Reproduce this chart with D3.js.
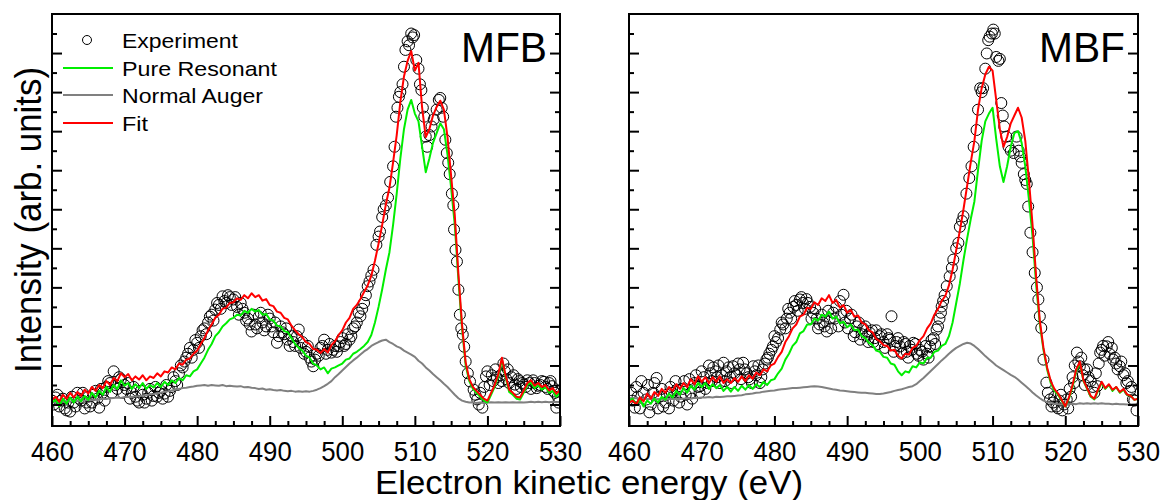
<!DOCTYPE html>
<html>
<head>
<meta charset="utf-8">
<script src="https://cdn.jsdelivr.net/npm/d3@7/dist/d3.min.js"></script>
<style>
body { margin: 0; background: #fff; }
text { font-family: "Liberation Sans", Arial, sans-serif; fill: #000; }
</style>
</head>
<body>
<svg id="chart" width="1162" height="500"></svg>
<script>
// x axis
var xTicks = [460, 470, 480, 490, 500, 510, 520, 530];
// energy grid of the computed curves (eV), 0.5 eV step
var energy = d3.range(460, 530.25, 0.5);

// ---- MFB panel ----
var mfbResonant = [
  0.05,0.12,-0.05,0.15,0.02,0.18,0.05,0.2,0.08,0.22,
  0.12,0.3,0.18,0.35,0.25,0.45,0.32,0.5,0.4,0.62,
  0.48,0.55,0.4,0.52,0.42,0.55,0.4,0.5,0.44,0.55,
  0.45,0.58,0.5,0.62,0.55,0.68,0.62,0.75,0.72,0.85,
  0.9,1.05,1.2,1.4,1.55,1.75,1.85,2.0,2.08,2.18,
  2.22,2.3,2.28,2.4,2.35,2.45,2.38,2.42,2.3,2.32,
  2.18,2.15,2.02,2.0,1.88,1.85,1.7,1.55,1.45,1.38,
  1.25,1.2,1.05,1.0,0.9,0.95,0.8,0.92,0.95,1.0,
  1.05,1.15,1.18,1.3,1.35,1.42,1.5,1.6,1.78,2.1,
  2.5,2.95,3.45,3.9,4.6,5.4,6.3,7.05,7.55,7.8,
  7.45,7.25,6.6,5.95,6.3,6.7,6.95,7.2,7.05,6.4,
  5.55,4.6,3.2,1.95,1.0,0.6,0.4,0.3,0.2,0.1,
  0.05,0.25,0.45,0.72,1.15,0.7,0.32,0.25,0.15,0.13,
  0.3,0.5,0.56,0.42,0.5,0.38,0.45,0.3,0.35,0.2,
  0.3
];
var mfbAuger = [
  0.06,0.05,0.08,0.07,0.09,0.08,0.1,0.09,0.11,0.1,
  0.12,0.11,0.13,0.13,0.15,0.14,0.16,0.17,0.18,0.17,
  0.19,0.2,0.19,0.21,0.21,0.23,0.24,0.26,0.27,0.29,
  0.3,0.33,0.34,0.36,0.38,0.4,0.42,0.43,0.45,0.46,
  0.48,0.49,0.5,0.48,0.5,0.49,0.48,0.5,0.47,0.48,
  0.47,0.46,0.47,0.44,0.45,0.43,0.42,0.4,0.41,0.38,
  0.39,0.37,0.36,0.37,0.35,0.34,0.35,0.33,0.34,0.33,
  0.34,0.33,0.35,0.38,0.42,0.47,0.53,0.6,0.7,0.78,
  0.87,0.96,1.05,1.13,1.2,1.28,1.36,1.42,1.5,1.55,
  1.6,1.64,1.66,1.6,1.55,1.49,1.45,1.38,1.33,1.28,
  1.22,1.12,1.05,0.95,0.87,0.78,0.7,0.62,0.53,0.45,
  0.35,0.25,0.16,0.1,0.07,0.05,0.05,0.04,0.05,0.04,
  0.05,0.06,0.05,0.06,0.05,0.06,0.05,0.06,0.05,0.06,
  0.05,0.06,0.07,0.06,0.07,0.06,0.07,0.06,0.07,0.06,
  0.07
];
var mfbFit = [
  0.12,0.2,0.08,0.25,0.15,0.3,0.18,0.32,0.22,0.38,
  0.28,0.45,0.35,0.5,0.42,0.6,0.5,0.68,0.6,0.8,
  0.7,0.78,0.62,0.72,0.64,0.75,0.62,0.72,0.68,0.8,
  0.72,0.85,0.82,0.95,0.9,1.05,1.02,1.15,1.18,1.3,
  1.38,1.55,1.7,1.9,2.05,2.22,2.3,2.45,2.48,2.6,
  2.62,2.72,2.68,2.8,2.72,2.85,2.75,2.8,2.66,2.7,
  2.55,2.52,2.38,2.35,2.22,2.18,2.02,1.9,1.8,1.72,
  1.6,1.55,1.42,1.4,1.32,1.42,1.33,1.52,1.62,1.78,
  1.9,2.1,2.22,2.45,2.55,2.7,2.88,3.05,3.3,3.68,
  4.12,4.6,5.12,5.55,6.2,6.9,7.75,8.4,8.8,9.05,
  8.55,8.75,7.6,6.85,7.05,7.4,7.62,7.78,7.55,6.85,
  5.85,4.85,3.35,2.05,1.08,0.65,0.45,0.35,0.25,0.15,
  0.1,0.3,0.5,0.78,1.2,0.75,0.38,0.3,0.2,0.18,
  0.36,0.55,0.62,0.48,0.55,0.45,0.5,0.36,0.42,0.28,
  0.36
];
// experiment: [energy, intensity]
var mfbExperiment = [
  [460.0,0.1],[460.5,0.18],[461.0,-0.05],[461.5,0.15],[462.0,-0.15],[462.5,-0.18],[463.0,0.05],[463.5,0.3],
  [464.0,0.1],[464.5,-0.1],[465.0,0.2],[465.5,0.05],[466.0,0.35],[466.5,-0.08],[467.0,0.3],[467.5,0.45],
  [468.0,0.55],[468.5,0.85],[469.0,0.4],[469.5,0.65],[470.0,0.5],[470.5,0.55],[471.0,0.3],[471.5,0.2],
  [472.0,0.05],[472.5,0.25],[473.0,0.15],[473.5,0.4],[474.0,0.22],[474.5,0.2],[475.0,0.35],[475.5,0.28],
  [476.0,0.2],[476.5,0.45],[477.0,0.6],[477.5,0.8],[478.0,0.95],[478.5,1.2],[479.0,1.45],[479.5,1.4],
  [480.0,1.58],[480.5,1.75],[481.0,1.95],[481.5,2.1],[482.0,2.3],[482.5,2.43],[483.0,2.55],[483.5,2.77],
  [484.0,2.6],[484.5,2.75],[485.0,2.69],[485.5,2.5],[486.0,2.6],[486.5,2.35],[487.0,2.2],[487.5,1.87],
  [488.0,2.05],[488.5,2.25],[489.0,2.1],[489.5,2.0],[490.0,2.2],[490.5,1.85],[491.0,1.58],[491.5,2.0],
  [492.0,1.8],[492.5,1.66],[493.0,1.75],[493.5,1.5],[494.0,1.92],[494.5,1.6],[495.0,1.35],[495.5,1.2],
  [496.0,0.98],[496.5,1.3],[497.0,1.45],[497.5,1.66],[498.0,1.4],[498.5,1.33],[499.0,1.5],[499.5,1.49],
  [500.0,1.7],[500.5,1.55],[501.0,1.66],[501.5,1.95],[502.0,2.1],[502.5,2.26],[503.0,2.6],[503.5,3.03],
  [504.0,3.3],[504.3,3.45],[504.7,4.09],[505.0,4.3],[505.2,4.43],[505.5,4.8],[505.7,5.0],[506.0,5.1],
  [506.3,5.3],[506.6,5.7],[507.0,6.1],[507.2,6.6],[507.4,7.37],[507.6,7.6],[507.8,7.88],[508.0,8.0],
  [508.3,8.2],[508.5,8.65],[508.7,9.08],[509.0,9.3],[509.2,9.2],[509.5,9.5],[509.7,9.4],[509.9,9.46],
  [510.2,8.82],[510.5,8.6],[510.7,8.2],[510.9,8.05],[511.1,7.6],[511.3,7.37],[511.5,6.86],[511.7,6.6],
  [512.0,6.9],[512.3,7.12],[512.6,7.3],[513.0,7.55],[513.3,7.8],[513.5,7.85],[513.7,7.6],[513.9,7.37],
  [514.2,6.78],[514.4,6.44],[514.6,6.19],[514.8,5.9],[515.1,5.4],[515.3,5.1],[515.4,4.48],[515.6,3.96],
  [515.8,3.66],[516.0,2.94],[516.2,2.3],[516.4,1.95],[516.6,1.79],[516.8,1.48],[517.0,1.1],[517.3,0.8],
  [517.6,0.59],[518.1,0.38],[518.6,0.13],[519.0,0.3],[519.3,-0.08],[519.8,0.72],[520.3,0.5],[520.6,0.75],
  [521.1,0.9],[521.5,0.55],[522.0,0.6],[522.4,0.85],[522.8,0.9],[523.3,0.7],[523.8,0.51],[524.2,0.65],
  [524.6,0.45],[525.0,0.51],[525.5,0.62],[526.0,0.4],[526.5,0.55],[527.0,0.48],[527.5,0.6],[528.0,0.45],
  [528.5,0.55],[528.9,0.47],[529.3,0.3],[529.5,-0.08],[529.8,0.05],
  [460.25,0.0],[460.75,0.25],[461.25,0.1],[461.75,-0.1],[462.25,0.05],[462.75,0.2],[463.25,-0.05],[463.75,0.15],
  [464.25,0.3],[464.75,0.05],[465.25,-0.05],[465.75,0.25],[466.25,0.15],[466.75,0.4],[467.25,0.1],[467.75,0.6],
  [468.25,0.3],[468.75,0.5],[469.25,0.7],[469.75,0.3],[470.25,0.4],[470.75,0.15],[471.25,0.45],[471.75,0.1],
  [472.25,0.35],[472.75,0.05],[473.25,0.3],[473.75,0.1],[474.25,0.45],[474.75,0.3],[475.25,0.15],[475.75,0.5],
  [476.25,0.35],[476.75,0.7],[477.25,0.5],[477.75,1.0],[478.25,1.1],[478.75,1.3],[479.25,1.2],[479.75,1.65],
  [480.25,1.45],[480.75,1.9],[481.25,1.8],[481.75,2.25],[482.25,2.15],[482.75,2.6],[483.25,2.45],[483.75,2.65],
  [484.25,2.8],[484.75,2.55],[485.25,2.75],[485.75,2.3],[486.25,2.45],[486.75,2.15],[487.25,2.05],[487.75,2.3],
  [488.25,1.95],[488.75,2.35],[489.25,1.9],[489.75,2.3],[490.25,2.0],[490.75,2.1],[491.25,1.75],[491.75,1.85],
  [492.25,1.95],[492.75,1.5],[493.25,1.6],[493.75,1.75],[494.25,1.45],[494.75,1.3],[495.25,1.5],[495.75,1.1],
  [496.25,1.15],[496.75,1.25],[497.25,1.5],[497.75,1.3],[498.25,1.55],[498.75,1.4],[499.25,1.35],[499.75,1.6],
  [500.25,1.5],[500.75,1.8],[501.25,1.75],[501.75,2.0],[502.25,2.35],[502.75,2.45],[503.25,2.8],[503.75,3.15],
  [518.35,0.25],[518.8,0.0],[519.55,0.45],[520.0,0.85],[520.8,0.6],[521.3,0.7],[521.8,0.75],[522.2,1.05],
  [522.6,0.65],[523.0,0.55],[523.6,0.75],[524.0,0.4],[524.4,0.6],[524.8,0.55],[525.3,0.45],[525.8,0.55],
  [526.3,0.62],[526.8,0.42],[527.3,0.5],[527.8,0.58],[528.3,0.4],[528.7,0.6],[529.1,0.35],[529.7,0.2]
];

// ---- MBF panel ----
var mbfResonant = [
  0.1,0.15,0.0,0.12,-0.05,0.1,0.02,0.15,0.05,0.2,
  0.12,0.28,0.18,0.35,0.25,0.42,0.3,0.48,0.38,0.55,
  0.45,0.55,0.4,0.52,0.42,0.5,0.35,0.45,0.33,0.45,
  0.35,0.48,0.38,0.5,0.4,0.52,0.45,0.58,0.5,0.62,
  0.65,0.8,0.92,1.15,1.3,1.5,1.6,1.82,1.88,2.05,
  2.05,2.2,2.15,2.3,2.25,2.38,2.2,2.25,2.08,2.12,
  1.98,2.05,1.9,1.92,1.75,1.7,1.58,1.52,1.38,1.35,
  1.22,1.2,1.05,1.02,0.85,0.75,0.85,0.82,0.98,0.95,
  1.08,1.05,1.2,1.2,1.35,1.38,1.5,1.55,1.75,2.1,
  2.6,3.1,3.7,4.25,4.75,5.2,6.0,6.75,7.25,7.45,
  7.6,6.8,6.1,5.7,6.1,6.6,6.95,7.0,6.7,6.1,
  5.25,4.3,3.05,2.05,1.4,0.9,0.55,0.35,0.25,0.1,
  -0.05,0.15,0.45,0.85,1.07,0.6,0.4,0.2,0.13,0.35,
  0.56,0.4,0.5,0.35,0.45,0.3,0.38,0.25,0.22,0.12,
  0.15
];
var mbfAuger = [
  0.15,0.17,0.16,0.15,0.15,0.14,0.14,0.13,0.14,0.13,
  0.13,0.14,0.14,0.15,0.14,0.15,0.16,0.15,0.17,0.17,
  0.18,0.18,0.19,0.18,0.2,0.19,0.2,0.21,0.21,0.22,
  0.23,0.24,0.26,0.27,0.28,0.3,0.31,0.33,0.34,0.35,
  0.36,0.38,0.39,0.4,0.41,0.42,0.42,0.43,0.44,0.45,
  0.46,0.47,0.46,0.45,0.43,0.41,0.39,0.38,0.36,0.35,
  0.34,0.33,0.32,0.31,0.3,0.3,0.29,0.28,0.27,0.27,
  0.28,0.3,0.32,0.35,0.37,0.39,0.42,0.45,0.47,0.52,
  0.6,0.68,0.77,0.86,0.95,1.04,1.13,1.21,1.3,1.38,
  1.45,1.5,1.55,1.58,1.56,1.5,1.42,1.33,1.24,1.16,
  1.08,1.0,0.94,0.88,0.82,0.76,0.71,0.64,0.56,0.48,
  0.4,0.31,0.23,0.16,0.1,0.06,0.04,0.02,0.01,0.0,
  0.0,0.01,0.02,0.01,0.03,0.02,0.03,0.02,0.03,0.02,
  0.03,0.02,0.02,0.01,0.02,0.01,0.01,0.0,0.0,0.01,
  0.0
];
var mbfFit = [
  0.05,0.1,0.0,0.18,0.08,0.28,0.15,0.32,0.22,0.4,
  0.3,0.45,0.35,0.52,0.4,0.55,0.45,0.65,0.52,0.72,
  0.58,0.7,0.55,0.7,0.58,0.72,0.55,0.65,0.55,0.68,
  0.58,0.72,0.6,0.75,0.66,0.82,0.75,0.9,0.85,1.0,
  1.05,1.22,1.35,1.6,1.75,1.95,2.05,2.25,2.3,2.48,
  2.45,2.62,2.55,2.72,2.65,2.8,2.6,2.68,2.48,2.55,
  2.35,2.42,2.25,2.28,2.1,2.05,1.9,1.85,1.68,1.62,
  1.52,1.5,1.38,1.4,1.25,1.18,1.3,1.28,1.45,1.5,
  1.65,1.75,1.95,2.08,2.3,2.45,2.65,2.78,3.05,3.45,
  3.95,4.45,5.0,5.6,6.2,6.75,7.55,8.1,8.45,8.65,
  8.55,7.8,7.05,6.6,6.85,7.2,7.4,7.6,7.35,6.75,
  5.75,4.6,3.25,2.15,1.45,0.95,0.6,0.4,0.28,0.12,
  -0.05,0.18,0.5,0.9,1.1,0.62,0.42,0.22,0.15,0.38,
  0.58,0.42,0.52,0.38,0.45,0.32,0.4,0.26,0.22,0.12,
  0.15
];
var mbfExperiment = [
  [460.3,0.3],[460.8,-0.08],[461.2,0.2],[461.7,0.6],[462.4,0.13],[462.8,-0.2],[463.3,0.3],[463.8,0.68],
  [464.2,0.2],[464.7,-0.05],[465.2,0.25],[465.7,0.45],[466.1,0.1],[466.6,0.38],[467.1,0.2],[467.6,0.6],
  [468.0,0.0],[468.5,0.3],[469.0,0.55],[469.5,0.45],[469.8,0.47],[470.3,0.7],[470.8,0.55],[471.2,0.8],
  [471.6,0.95],[472.1,0.7],[472.5,0.55],[473.0,1.07],[473.4,0.85],[473.9,0.7],[474.3,0.98],[474.8,0.75],
  [475.2,0.9],[475.7,1.07],[476.2,0.8],[476.6,0.65],[477.1,0.98],[477.5,0.75],[478.0,0.55],[478.4,0.9],
  [478.9,1.15],[479.3,1.3],[479.8,1.49],[480.2,1.6],[480.8,1.92],[481.2,2.05],[481.7,2.2],[482.1,2.35],
  [482.6,2.5],[483.0,2.55],[483.5,2.69],[483.9,2.6],[484.4,2.7],[484.9,2.5],[485.3,2.35],[485.8,2.2],
  [486.2,2.05],[486.7,2.1],[487.2,1.87],[487.6,2.2],[488.1,2.35],[488.5,2.5],[489.0,2.65],[489.5,2.81],
  [489.9,2.4],[490.4,2.2],[490.9,1.75],[491.3,2.0],[491.8,1.66],[492.2,1.95],[492.7,1.75],[493.1,1.84],
  [493.6,1.6],[494.0,1.9],[494.5,1.75],[495.0,1.6],[495.5,1.8],[495.9,1.66],[496.1,2.26],[496.6,1.5],
  [497.0,1.7],[497.3,1.49],[497.8,1.6],[498.2,1.35],[498.6,1.5],[499.1,1.58],[499.6,1.3],[500.0,1.4],
  [500.5,1.15],[501.0,1.3],[501.4,1.49],[501.9,1.7],[502.3,1.92],[502.7,2.2],[503.0,2.51],[503.4,2.8],
  [503.7,3.03],[504.1,3.28],[504.4,3.5],[504.6,3.71],[505.0,4.0],[505.3,4.14],[505.5,4.55],[505.8,4.7],
  [506.0,4.82],[506.4,5.4],[506.8,5.8],[507.1,6.1],[507.4,6.6],[507.8,7.03],[508.0,7.55],[508.3,8.1],
  [508.5,8.0],[508.7,8.1],[509.0,8.6],[509.2,8.99],[509.4,9.33],[509.6,9.42],[509.9,9.5],[510.1,9.6],
  [510.3,9.5],[510.5,8.9],[510.8,8.8],[511.0,8.85],[511.2,7.72],[511.4,7.4],[511.6,7.12],[511.9,6.86],
  [512.2,6.6],[512.5,6.5],[512.9,6.44],[513.3,6.86],[513.6,6.5],[513.8,6.35],[514.0,6.19],[514.3,5.9],
  [514.5,5.75],[514.7,5.65],[514.9,5.07],[515.2,4.4],[515.5,3.9],[515.8,3.37],[516.1,3.0],[516.3,2.69],
  [516.5,2.26],[516.7,1.96],[517.0,1.15],[517.4,0.56],[517.9,0.13],[518.3,0.05],[518.8,-0.05],[519.2,0.1],
  [519.6,-0.15],[520.2,0.13],[520.6,0.4],[521.0,0.7],[521.3,1.0],[521.6,1.33],[522.0,0.98],[522.4,0.75],
  [522.7,0.5],[523.0,0.9],[523.5,0.6],[524.0,0.3],[524.4,0.47],[524.8,1.33],[525.2,1.5],[525.7,1.49],
  [526.1,1.3],[526.6,1.15],[527.0,1.05],[527.5,0.98],[528.0,0.75],[528.4,0.55],[528.9,0.35],[529.3,0.13],
  [529.8,-0.15],
  [460.5,0.1],[461.0,0.45],[461.5,-0.1],[462.0,0.3],[462.6,0.5],[463.0,0.0],[463.5,0.55],[464.0,-0.1],
  [464.5,0.4],[465.0,0.05],[465.5,-0.1],[465.9,0.3],[466.4,0.6],[466.9,0.05],[467.4,0.4],[467.8,0.25],
  [468.3,0.65],[468.7,0.15],[469.2,0.75],[469.7,0.3],[470.0,0.85],[470.5,0.4],[471.0,1.0],[471.4,0.6],
  [471.9,0.85],[472.3,1.0],[472.8,0.75],[473.2,0.6],[473.7,0.95],[474.1,0.55],[474.5,0.8],[475.0,1.05],
  [475.4,0.65],[475.9,0.9],[476.4,0.7],[476.9,0.55],[477.3,0.85],[477.8,1.0],[478.2,0.7],[478.7,1.05],
  [479.1,1.2],[479.6,1.4],[480.0,1.75],[480.5,1.7],[481.0,2.1],[481.5,1.95],[481.9,2.45],[482.3,2.2],
  [482.8,2.65],[483.2,2.4],[483.7,2.75],[484.2,2.45],[484.6,2.6],[485.1,2.2],[485.6,2.45],[486.0,1.95],
  [486.5,2.3],[486.9,2.0],[487.4,2.4],[487.8,1.95],[488.3,2.2],[488.8,2.0],[489.2,2.3],[489.7,2.1],
  [490.1,1.95],[490.6,2.3],[491.1,1.85],[491.6,2.1],[492.0,1.8],[492.5,2.0],[492.9,1.6],[493.4,1.9],
  [493.8,1.7],[494.2,1.55],[494.7,1.8],[495.2,1.45],[495.7,1.7],[496.4,1.35],[496.8,1.6],[497.5,1.3],
  [498.0,1.55],[498.4,1.2],[498.9,1.4],[499.4,1.55],[499.8,1.25],[500.3,1.35],[500.8,1.5],[501.2,1.2],
  [501.6,1.65],[502.1,1.55],[502.5,2.0],[502.9,2.35],[503.2,2.65],
  [517.6,0.3],[518.1,-0.05],[518.5,0.2],[519.0,-0.1],[519.4,0.25],[519.8,0.0],[520.4,-0.1],[520.8,0.2],
  [521.2,0.55],[521.8,1.1],[522.2,1.2],[522.6,0.9],[523.2,0.7],[523.8,0.45],[524.2,0.8],[524.6,1.05],
  [525.0,1.4],[525.4,1.25],[525.9,1.6],[526.4,1.45],[526.8,1.2],[527.2,0.9],[527.7,1.1],[528.2,0.8],
  [528.6,0.6],[529.1,0.45],[529.5,0.1]
];

var legendNames = ["Experiment", "Pure Resonant", "Normal Auger", "Fit"];
var colors = { resonant: "#00ee00", auger: "#808080", fit: "#ff0000" };

// layout
var svg = d3.select("#chart");
var plotTop = 14, plotBottom = 426;
var panels = [
  { name: "MFB", left: 52, right: 560, exp: mfbExperiment, res: mfbResonant, aug: mfbAuger, fit: mfbFit, legend: true },
  { name: "MBF", left: 629, right: 1138, exp: mbfExperiment, res: mbfResonant, aug: mbfAuger, fit: mbfFit, legend: false }
];

var y = d3.scaleLinear().domain([-0.55, 10]).range([plotBottom, plotTop]);
var yMajor = d3.range(0, 10);
var yMinor = d3.range(0.5, 10, 1);

panels.forEach(function(p, pi) {
  var x = d3.scaleLinear().domain([460, 530]).range([p.left, p.right]);
  var g = svg.append("g");

  var clipId = "clip" + pi;
  svg.append("clipPath").attr("id", clipId)
    .append("rect")
    .attr("x", p.left).attr("y", plotTop)
    .attr("width", p.right - p.left).attr("height", plotBottom - plotTop);

  var plot = g.append("g").attr("clip-path", "url(#" + clipId + ")");

  // experiment circles
  plot.selectAll("circle.exp")
    .data(p.exp)
    .enter().append("circle")
    .attr("class", "exp")
    .attr("cx", function(d){ return x(d[0]); })
    .attr("cy", function(d){ return y(d[1]); })
    .attr("r", 5.5)
    .attr("fill", "none")
    .attr("stroke", "#000")
    .attr("stroke-width", 1);

  var line = d3.line()
    .x(function(d, i){ return x(energy[i]); })
    .y(function(d){ return y(d); });

  [[p.aug, colors.auger], [p.res, colors.resonant], [p.fit, colors.fit]].forEach(function(s) {
    plot.append("path")
      .datum(s[0])
      .attr("d", line)
      .attr("fill", "none")
      .attr("stroke", s[1])
      .attr("stroke-width", 2)
      .attr("stroke-linejoin", "round");
  });

  // axes, ticks pointing inward
  var xMajAx = d3.axisBottom(x).tickValues(xTicks).tickSize(-10).tickPadding(15)
    .tickFormat(d3.format("d"));
  var xMinAx = d3.axisBottom(x).tickValues(d3.range(462.5, 530, 2.5).filter(function(v){ return v % 10 !== 0; }))
    .tickSize(-5).tickFormat("");
  var xa = g.append("g").attr("transform", "translate(0," + plotBottom + ")").call(xMajAx);
  var xm = g.append("g").attr("transform", "translate(0," + plotBottom + ")").call(xMinAx);
  xa.selectAll("text")
    .style("font-size", "28px")
    .attr("textLength", 43)
    .attr("lengthAdjust", "spacingAndGlyphs");

  var yl = g.append("g").attr("transform", "translate(" + p.left + ",0)")
    .call(d3.axisLeft(y).tickValues(yMajor).tickSize(-10).tickFormat(""));
  var ylm = g.append("g").attr("transform", "translate(" + p.left + ",0)")
    .call(d3.axisLeft(y).tickValues(yMinor).tickSize(-5).tickFormat(""));
  var yr = g.append("g").attr("transform", "translate(" + p.right + ",0)")
    .call(d3.axisRight(y).tickValues(yMajor).tickSize(-10).tickFormat(""));
  var yrm = g.append("g").attr("transform", "translate(" + p.right + ",0)")
    .call(d3.axisRight(y).tickValues(yMinor).tickSize(-5).tickFormat(""));

  [xa, xm, yl, ylm, yr, yrm].forEach(function(a) {
    a.select(".domain").remove();
    a.selectAll(".tick line").attr("stroke", "#000").attr("stroke-width", 2);
  });

  // frame
  g.append("rect")
    .attr("x", p.left).attr("y", plotTop)
    .attr("width", p.right - p.left).attr("height", plotBottom - plotTop)
    .attr("fill", "none").attr("stroke", "#000").attr("stroke-width", 2);

  // panel label
  g.append("text")
    .attr("x", p.right - 13).attr("y", 62)
    .attr("text-anchor", "end")
    .style("font-size", "42px")
    .attr("textLength", 86)
    .attr("lengthAdjust", "spacingAndGlyphs")
    .text(p.name);

  if (p.legend) {
    var lg = g.append("g");
    var rowY = [40, 68, 95, 123];
    var textW = [116, 155, 141, 26];
    lg.append("circle").attr("cx", 87).attr("cy", rowY[0]).attr("r", 4.5)
      .attr("fill", "none").attr("stroke", "#000").attr("stroke-width", 1);
    [colors.resonant, colors.auger, colors.fit].forEach(function(c, i) {
      lg.append("line")
        .attr("x1", 63).attr("x2", 113)
        .attr("y1", rowY[i + 1]).attr("y2", rowY[i + 1])
        .attr("stroke", c).attr("stroke-width", 2);
    });
    legendNames.forEach(function(n, i) {
      lg.append("text")
        .attr("x", 122).attr("y", rowY[i] + 8)
        .style("font-size", "21px")
        .attr("textLength", textW[i])
        .attr("lengthAdjust", "spacingAndGlyphs")
        .text(n);
    });
  }
});

// axis titles
svg.append("text")
  .attr("x", 589).attr("y", 494)
  .attr("text-anchor", "middle")
  .style("font-size", "33px")
  .attr("textLength", 428)
  .attr("lengthAdjust", "spacingAndGlyphs")
  .text("Electron kinetic energy (eV)");

svg.append("text")
  .attr("transform", "translate(41,220) rotate(-90)")
  .attr("text-anchor", "middle")
  .style("font-size", "36px")
  .attr("textLength", 306)
  .attr("lengthAdjust", "spacingAndGlyphs")
  .text("Intensity (arb. units)");
</script>
</body>
</html>
